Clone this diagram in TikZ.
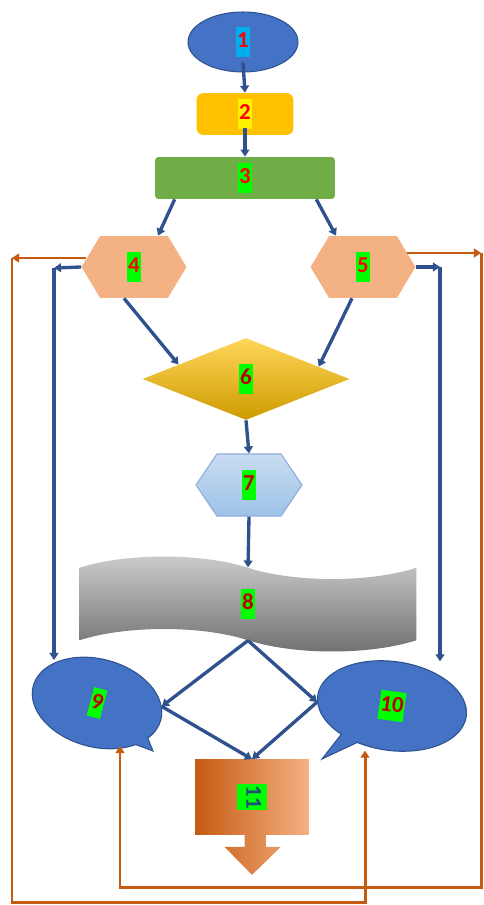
\documentclass[tikz,border=0pt]{standalone}
\usepackage{fontspec}
\setmainfont{Carlito}
\usetikzlibrary{arrows.meta, positioning, shapes.geometric, shapes.symbols, shapes.callouts, calc, backgrounds}
\definecolor{flowblue}{RGB}{47,82,143}
\definecolor{backbrown}{RGB}{197,90,17}
\definecolor{bubbleblue}{RGB}{68,114,196}
\definecolor{bubbleedge}{RGB}{47,82,143}
\definecolor{amber}{RGB}{255,192,0}
\definecolor{leafgreen}{RGB}{112,173,71}
\definecolor{peach}{RGB}{244,177,131}
\definecolor{ember}{RGB}{237,125,49}
\definecolor{rust}{RGB}{197,90,17}
\definecolor{goldtop}{RGB}{255,214,90}
\definecolor{goldbottom}{RGB}{205,155,0}
\definecolor{skytop}{RGB}{200,220,242}
\definecolor{skybottom}{RGB}{157,195,230}
\definecolor{skyedge}{RGB}{143,170,220}
\definecolor{greytop}{RGB}{205,205,205}
\definecolor{greybottom}{RGB}{110,110,110}
\definecolor{taggreen}{RGB}{0,255,0}
\definecolor{tagred}{RGB}{255,0,0}
\definecolor{tagdark}{RGB}{192,0,0}
\definecolor{tagnavy}{RGB}{31,78,121}

\newcommand{\numtag}[3]{{\setlength{\fboxsep}{0.6pt}\colorbox{#1}{\textcolor{#2}{\rule[-4.5pt]{0pt}{15.5pt}#3}}}}

\begin{document}
\begin{tikzpicture}[
  x=0.02cm, y=-0.02cm,
  font=\fontsize{13}{15}\selectfont\bfseries,
  every node/.style={inner sep=0pt},
  hexbox/.style={signal, signal to=east and west, signal pointer angle=118, fill=peach, minimum width=2.1cm, minimum height=1.24cm},
  bubble/.style={ellipse callout, fill=bubbleblue, draw=bubbleedge, line width=0.6pt, minimum width=2.64cm, minimum height=1.76cm},
  flowline/.style={-{Triangle[width=5pt,length=4pt]}, line width=1.9pt, draw=flowblue},
  backline/.style={-{Triangle[width=5pt,length=4pt]}, line width=1.7pt, draw=backbrown}
]
  \useasboundingbox (0,0) rectangle (483,905);

  % main column
  \node[ellipse, fill=bubbleblue, draw=bubbleedge, line width=0.6pt, minimum width=2.2cm, minimum height=1.2cm] (n1) at (243,42) {\numtag{cyan}{tagred}{1}};
  \node[rectangle, rounded corners=4pt, fill=amber, minimum width=1.94cm, minimum height=0.84cm] (n2) at (245,114) {\numtag{yellow}{tagred}{2}};
  \node[rectangle, rounded corners=2pt, fill=leafgreen, minimum width=3.6cm, minimum height=0.84cm] (n3) at (245,178) {\numtag{taggreen}{tagred}{3}};
  \node[hexbox] (n4) at (134,267) {\numtag{taggreen}{tagred}{4}};
  \node[hexbox] (n5) at (363,267) {\numtag{taggreen}{tagred}{5}};
  \node[diamond, top color=goldtop, bottom color=goldbottom, minimum width=4.14cm, minimum height=1.64cm] (n6) at (246,379) {\numtag{taggreen}{tagdark}{6}};
  \node[signal, signal to=east and west, signal pointer angle=112, top color=skytop, bottom color=skybottom, draw=skyedge, line width=0.6pt, minimum width=2.12cm, minimum height=1.24cm] (n7) at (249,485) {\numtag{taggreen}{tagdark}{7}};
  \node[tape, tape bend top=out and in, tape bend bottom=out and in, tape bend height=0.45cm, top color=greytop, bottom color=greybottom, minimum width=6.74cm, minimum height=1.9cm] (n8) at (248,604) {\numtag{taggreen}{tagdark}{8}};

  % callouts
  \node[bubble, rotate=-15, callout absolute pointer={(153,751)}] (n9) at (97,703) {\numtag{taggreen}{tagdark}{9}};
  \node[bubble, rotate=-8, minimum width=3cm, minimum height=1.78cm, callout absolute pointer={(322,759)}] (n10) at (392,706) {\numtag{taggreen}{tagdark}{10}};

  % down arrow box
  \node[minimum width=2.26cm, minimum height=1.5cm] (n11) at (252,797) {\rotatebox{-90}{\numtag{taggreen}{tagnavy}{11}}};
  \begin{scope}[on background layer]
    \shade[left color=rust, middle color=ember, right color=peach]
      (n11.north west) -- (n11.north east) -- (n11.south east) -- ++(-43,0) -- ++(0,12) -- ++(15,0)
      -- ($(n11.south)+(0,40)$) -- ++(-27.5,-28) -- ++(20,0) -- ++(0,-12) -- (n11.south west) -- cycle;
  \end{scope}

  % forward connectors
  \draw[flowline] ([yshift=0.2cm]n1.south) -- (n2.north);
  \draw[flowline] ([yshift=0.14cm]n2.south) -- (n3.north);
  \draw[flowline] ([xshift=0.4cm]n3.south west) -- ([xshift=0.48cm]n4.north);
  \draw[flowline] ([xshift=-0.38cm]n3.south east) -- ([xshift=-0.54cm]n5.north);
  \draw[flowline] ([xshift=-0.2cm]n4.south) -- ($(n6.west)!0.35!(n6.north)$);
  \draw[flowline] ([xshift=-0.22cm]n5.south) -- ($(n6.east)!0.3!(n6.north)$);
  \draw[flowline] (n6.south) -- (n7.north);
  \draw[flowline] (n7.south) -- (n8.north);
  \draw[flowline] (n8.south) -- (n9.12);
  \draw[flowline] (n8.south) -- (n10.185);
  \draw[flowline] (n9.12) -- (n11.north);
  \draw[flowline] (n10.185) -- (n11.north);

  % side connectors
  \coordinate (c4b) at (54,268);
  \coordinate (c5b) at (440,267);
  \draw[flowline] (n4.west) -- (c4b);
  \draw[flowline] (c4b) -- (c4b |- n9.north);
  \draw[flowline] (n5.east) -- (c5b);
  \draw[flowline] (c5b) -- (c5b |- n10.north);

  % return loops
  \coordinate (c4a) at (12,258);
  \coordinate (c4d) at (365,902);
  \coordinate (c5a) at (481,253);
  \coordinate (c5d) at (120,887);
  \draw[backline] ([shift={(5,-9)}]n4.west) -- (c4a);
  \draw[backline] (c4a) |- (c4d) -- (c4d |- n10.south);
  \draw[backline] ([shift={(-9,-14)}]n5.east) -- (c5a);
  \draw[backline] (c5a) |- (c5d) -- (c5d |- n9.south);
\end{tikzpicture}
\end{document}
